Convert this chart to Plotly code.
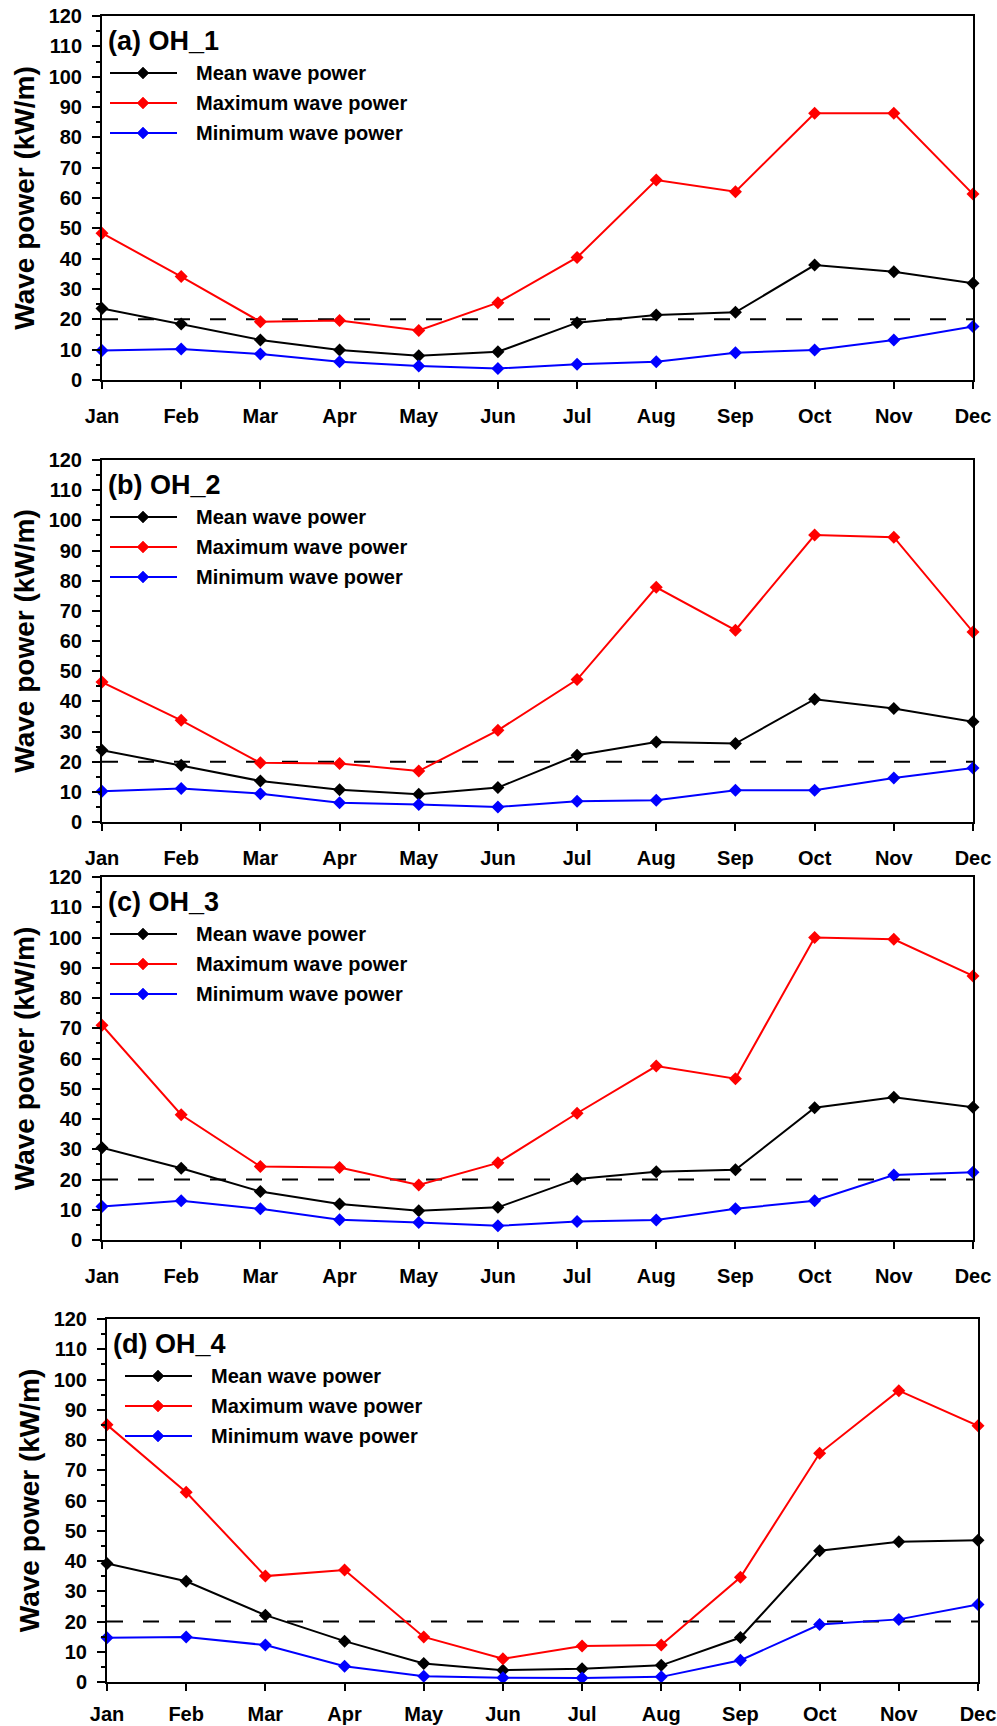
import plotly.graph_objects as go

# ---------------- data ----------------
months = ["Jan", "Feb", "Mar", "Apr", "May", "Jun",
          "Jul", "Aug", "Sep", "Oct", "Nov", "Dec"]
series_names = ["Mean wave power", "Maximum wave power", "Minimum wave power"]
panel_titles = ["(a) OH_1", "(b) OH_2", "(c) OH_3", "(d) OH_4"]
threshold = 20
y_title = "Wave power (kW/m)"

oh1_mean = [23.6, 18.5, 13.2, 9.9, 8.0, 9.3, 18.9, 21.4, 22.3, 37.9, 35.7, 31.9]
oh1_max = [48.4, 34.1, 19.2, 19.6, 16.3, 25.5, 40.4, 65.9, 62.1, 87.9, 87.9, 61.3]
oh1_min = [9.7, 10.2, 8.6, 6.0, 4.6, 3.8, 5.2, 6.0, 9.0, 9.9, 13.2, 17.6]

oh2_mean = [23.8, 18.8, 13.6, 10.7, 9.2, 11.4, 22.1, 26.5, 26.0, 40.7, 37.6, 33.2]
oh2_max = [46.4, 33.7, 19.6, 19.4, 16.9, 30.4, 47.2, 77.8, 63.6, 95.1, 94.4, 63.0]
oh2_min = [10.2, 11.1, 9.4, 6.4, 5.8, 5.0, 6.9, 7.2, 10.5, 10.5, 14.6, 17.9]

oh3_mean = [30.5, 23.7, 16.0, 11.9, 9.7, 10.8, 20.2, 22.6, 23.2, 43.7, 47.2, 43.9]
oh3_max = [71.0, 41.4, 24.3, 24.0, 18.2, 25.5, 41.9, 57.5, 53.3, 100.0, 99.4, 87.3]
oh3_min = [11.1, 13.0, 10.3, 6.7, 5.8, 4.7, 6.1, 6.6, 10.3, 13.0, 21.5, 22.4]

oh4_mean = [39.2, 33.3, 22.1, 13.5, 6.1, 3.9, 4.4, 5.5, 14.7, 43.4, 46.4, 46.9]
oh4_max = [85.0, 62.7, 35.0, 37.0, 14.9, 7.7, 11.9, 12.2, 34.6, 75.6, 96.3, 84.7]
oh4_min = [14.6, 14.9, 12.2, 5.2, 1.9, 1.4, 1.3, 1.7, 7.2, 19.0, 20.7, 25.6]

panels_data = [
    (oh1_mean, oh1_max, oh1_min),
    (oh2_mean, oh2_max, oh2_min),
    (oh3_mean, oh3_max, oh3_min),
    (oh4_mean, oh4_max, oh4_min),
]

# ---------------- styling / layout ----------------
W, H = 997, 1726
FONT = "Arial, 'Liberation Sans', sans-serif"
colors = ["#000000", "#FF0000", "#0000FF"]

# plot boxes in pixels: left, right, top, bottom
boxes = [
    (102, 973, 16, 380),
    (102, 973, 460, 822),
    (102, 973, 877, 1240),
    (107, 978, 1319, 1682),
]
# x tick label standoff per panel
x_standoffs = [10, 10, 10, 6]
# legend geometry per panel (line start, line end, marker centre, text start)
legend_geo = [
    (8, 75, 41, 92),
    (8, 75, 41, 92),
    (8, 75, 41, 92),
    (18, 85, 51, 102),
]
legend_rows = [57, 87, 117]

fig = go.Figure()
layout = dict(
    template="none",
    width=W, height=H,
    margin=dict(l=0, r=0, t=0, b=0, autoexpand=False),
    paper_bgcolor="white", plot_bgcolor="white",
    showlegend=False,
    font=dict(family=FONT, color="black"),
)
shapes = []
annotations = []

for i, (data, box) in enumerate(zip(panels_data, boxes)):
    n = "" if i == 0 else str(i + 1)
    xa, ya = "x" + n, "y" + n
    L, R, T, B = box
    layout["xaxis" + n] = dict(
        domain=[L / W, R / W],
        anchor=ya, automargin=False,
        type="category",
        categoryorder="array", categoryarray=months,
        range=[0, len(months) - 1],
        showline=True, linecolor="black", linewidth=2, mirror=True,
        ticks="outside", ticklen=7, tickwidth=2, tickcolor="black",
        tickfont=dict(family=FONT, size=20, color="black", weight="bold"),
        ticklabelstandoff=x_standoffs[i],
        showgrid=False, zeroline=False, fixedrange=True,
    )
    layout["yaxis" + n] = dict(
        domain=[1 - B / H, 1 - T / H],
        anchor=xa, automargin=False,
        range=[0, 120], dtick=10, tick0=0,
        showline=True, linecolor="black", linewidth=2, mirror=True,
        ticks="outside", ticklen=8, tickwidth=2, tickcolor="black",
        minor=dict(dtick=5, ticks="outside", ticklen=4, tickwidth=1.5, tickcolor="black",
                   showgrid=False),
        tickfont=dict(family=FONT, size=20, color="black", weight="bold"),
        ticklabelstandoff=6,
        title=dict(text=y_title, standoff=6,
                   font=dict(family=FONT, size=28, color="black", weight="bold")),
        showgrid=False, zeroline=False, fixedrange=True,
    )

    # threshold dashed line
    fig.add_trace(go.Scatter(
        x=months, y=[threshold] * len(months), mode="lines",
        line=dict(color="black", width=2, dash="16px,20px"),
        xaxis=xa, yaxis=ya, hoverinfo="skip", cliponaxis=False,
    ))
    for s, (vals, col, name) in enumerate(zip(data, colors, series_names)):
        fig.add_trace(go.Scatter(
            x=months, y=vals, mode="lines+markers", name=name,
            line=dict(color=col, width=2),
            marker=dict(symbol="diamond", size=10, color=col),
            xaxis=xa, yaxis=ya, cliponaxis=False,
        ))

    # panel title
    annotations.append(dict(
        text=panel_titles[i], xref=xa + " domain", yref=ya + " domain",
        x=0, y=1, xanchor="left", yanchor="middle", xshift=4, yshift=-25,
        showarrow=False,
        font=dict(family=FONT, size=27, color="black", weight="bold"),
    ))

    # manual legend
    lx0, lx1, mx, tx = legend_geo[i]
    for r, (col, name) in enumerate(zip(colors, series_names)):
        yy = -legend_rows[r]
        shapes.append(dict(
            type="line", xref=xa + " domain", yref=ya + " domain",
            xsizemode="pixel", ysizemode="pixel", xanchor=0, yanchor=1,
            x0=lx0, x1=lx1, y0=yy, y1=yy,
            line=dict(color=col, width=2),
        ))
        d = 6
        shapes.append(dict(
            type="path", xref=xa + " domain", yref=ya + " domain",
            xsizemode="pixel", ysizemode="pixel", xanchor=0, yanchor=1,
            path=f"M {mx - d},{yy} L {mx},{yy + d} L {mx + d},{yy} L {mx},{yy - d} Z",
            fillcolor=col, line=dict(color=col, width=0.5),
        ))
        annotations.append(dict(
            text=name, xref=xa + " domain", yref=ya + " domain",
            x=0, y=1, xanchor="left", yanchor="middle", xshift=tx, yshift=yy,
            showarrow=False,
            font=dict(family=FONT, size=20, color="black", weight="bold"),
        ))

layout["shapes"] = shapes
layout["annotations"] = annotations
fig.update_layout(**layout)

fig.write_html(
    "out.html",
    config={"displayModeBar": False},
    post_script="document.body.style.margin='0';document.body.style.padding='0';",
)
